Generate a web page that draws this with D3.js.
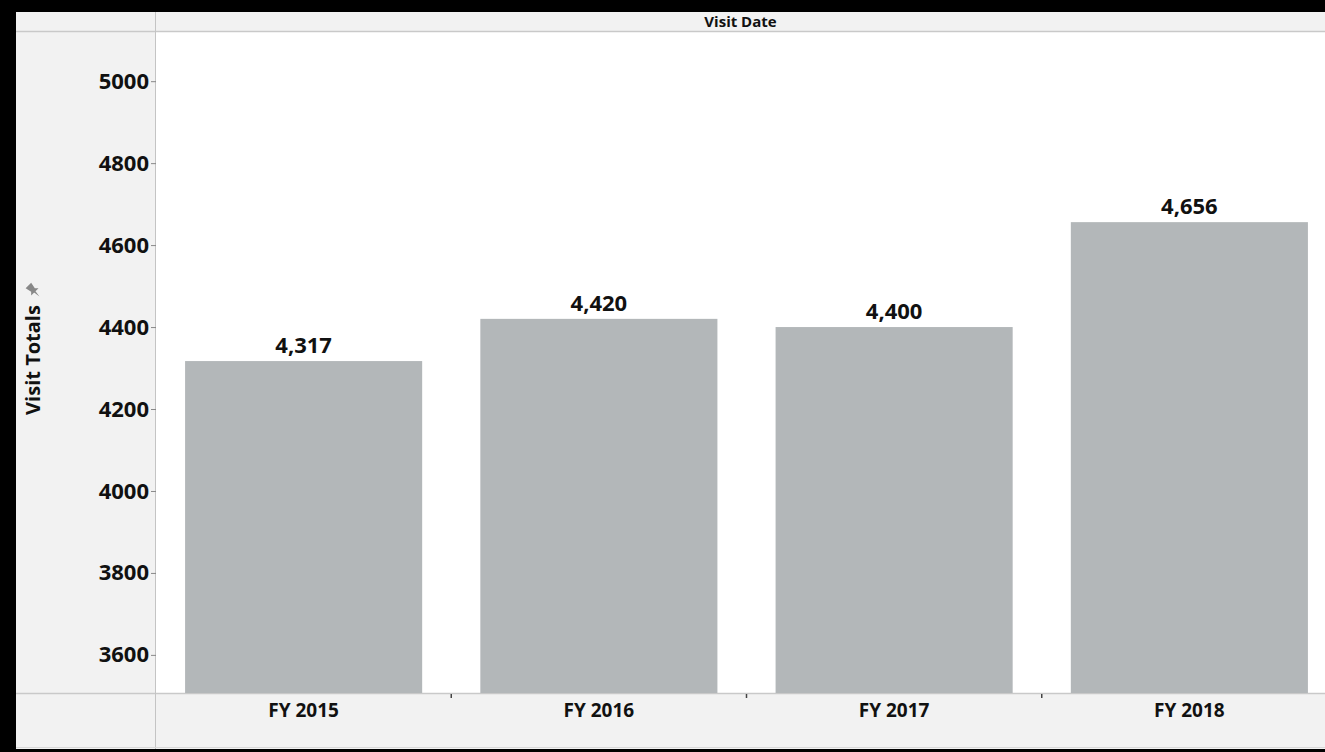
<!DOCTYPE html>
<html>
<head>
<meta charset="utf-8">
<script src="https://cdn.jsdelivr.net/npm/d3@7"></script>
<style>
  html, body { margin: 0; padding: 0; background: #fff; }
  svg { display: block; }
  text { font-family: "Open Sans", "Noto Sans", sans-serif; font-weight: bold; fill: #111; }
</style>
</head>
<body>
<script>
// ---- data ----
const categories = ["FY 2015", "FY 2016", "FY 2017", "FY 2018"];
const visitTotals = [4317, 4420, 4400, 4656];
const yTicks = [3600, 3800, 4000, 4200, 4400, 4600, 4800, 5000];
const xTitle = "Visit Date";
const yTitle = "Visit Totals";

// ---- layout ----
const W = 1325, H = 752;
const frame = { left: 16, top: 12, bottom: 749 };
const plot = { left: 156, right: 1337, top: 32, bottom: 693 };

const svg = d3.select("body").append("svg").attr("width", W).attr("height", H);

// background panels
svg.append("rect").attr("x", 0).attr("y", 0).attr("width", W).attr("height", H).attr("fill", "#000");
svg.append("rect").attr("x", frame.left).attr("y", frame.top).attr("width", W - frame.left).attr("height", frame.bottom - frame.top).attr("fill", "#f2f2f2");
svg.append("rect").attr("x", plot.left).attr("y", plot.top).attr("width", W - plot.left).attr("height", plot.bottom - plot.top).attr("fill", "#fff");

// header separator line
svg.append("line").attr("x1", frame.left).attr("x2", W).attr("y1", plot.top - 0.5).attr("y2", plot.top - 0.5)
  .attr("stroke", "#c9c9c9").attr("stroke-width", 1.5);
// bottom separator
svg.append("line").attr("x1", frame.left).attr("x2", W).attr("y1", plot.bottom + 0.5).attr("y2", plot.bottom + 0.5)
  .attr("stroke", "#c9c9c9").attr("stroke-width", 1.5);
// vertical separator
svg.append("line").attr("x1", plot.left - 0.5).attr("x2", plot.left - 0.5).attr("y1", frame.top).attr("y2", frame.bottom)
  .attr("stroke", "#c4c4c4").attr("stroke-width", 1);
// faint line above bottom black
svg.append("line").attr("x1", frame.left).attr("x2", W).attr("y1", frame.bottom - 1.5).attr("y2", frame.bottom - 1.5)
  .attr("stroke", "#d8d8d8").attr("stroke-width", 1);

// ---- scales ----
const x = d3.scaleBand().domain(categories).range([plot.left, plot.right]).paddingInner(0.197).paddingOuter(0.0985);
const y = d3.scaleLinear().domain([3507, 5120]).range([plot.bottom, plot.top]);

// bars
const g = svg.append("g");
g.selectAll("rect.bar").data(categories).join("rect").attr("class", "bar")
  .attr("x", d => x(d))
  .attr("width", x.bandwidth())
  .attr("y", (d, i) => y(visitTotals[i]))
  .attr("height", (d, i) => plot.bottom - y(visitTotals[i]))
  .attr("fill", "#b3b7b9");

// value labels
g.selectAll("text.val").data(categories).join("text").attr("class", "val")
  .attr("x", d => x(d) + x.bandwidth() / 2)
  .attr("y", (d, i) => y(visitTotals[i]) - 8)
  .attr("text-anchor", "middle")
  .style("font-size", "22px")
  .text((d, i) => d3.format(",")(visitTotals[i]));

// y axis
const yAxis = d3.axisLeft(y).tickValues(yTicks).tickFormat(d3.format("d")).tickSize(5).tickPadding(2);
const ya = svg.append("g").attr("transform", `translate(${plot.left},0)`).call(yAxis);
ya.select(".domain").remove();
ya.selectAll(".tick line").attr("stroke", "#888");
ya.selectAll(".tick text").style("font-size", "22px").attr("fill", "#111");

// x axis (labels in bottom strip, ticks between bands)
const xa = svg.append("g").attr("transform", `translate(0,${plot.bottom})`)
  .call(d3.axisBottom(x).tickSize(0).tickPadding(11));
xa.select(".domain").remove();
xa.selectAll(".tick text").style("font-size", "19px").attr("fill", "#111").attr("dy", "0.68em");
// separators ticks between categories
svg.append("g").selectAll("line").data(categories.slice(1)).join("line")
  .attr("x1", d => x(d) - x.step() * x.paddingInner() / 2)
  .attr("x2", d => x(d) - x.step() * x.paddingInner() / 2)
  .attr("y1", plot.bottom + 1).attr("y2", plot.bottom + 5)
  .attr("stroke", "#444").attr("stroke-width", 1.5);

// header title
svg.append("text").attr("x", (plot.left + W) / 2).attr("y", 27).attr("text-anchor", "middle")
  .style("font-size", "15px").text(xTitle);

// y title
const yt = svg.append("g").attr("transform", `translate(40,${(298 + 422) / 2}) rotate(-90)`);
yt.append("text").attr("text-anchor", "middle").style("font-size", "20px").text(yTitle);
// pin icon
const pin = svg.append("g").attr("transform", "translate(33,290) rotate(-45) scale(1.3)");
pin.append("path").attr("d", "M-3,-5 L3,-5 L2,0 L4,2 L-4,2 L-2,0 Z M-0.7,2 L0.7,2 L0,7 Z").attr("fill", "#888");
</script>
</body>
</html>
